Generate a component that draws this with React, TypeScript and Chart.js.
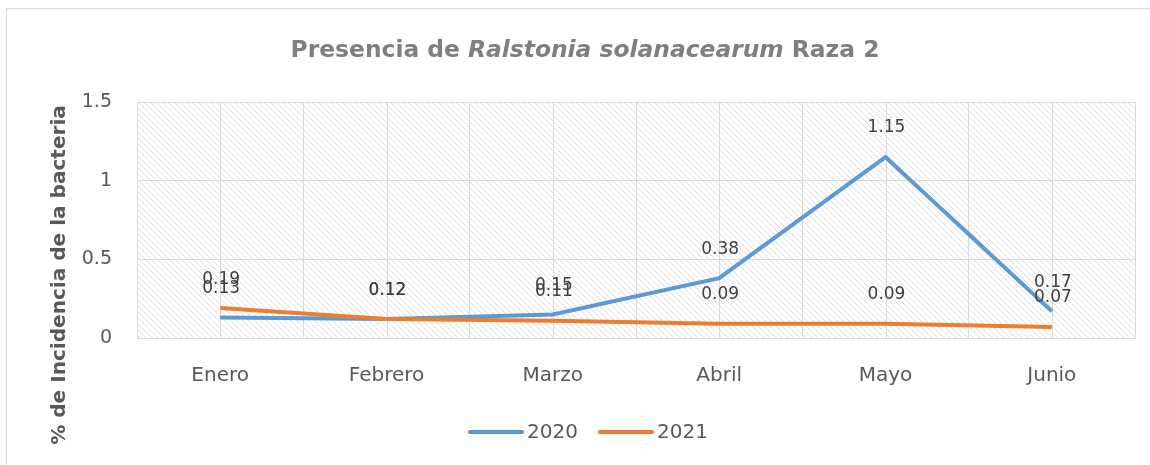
import React, { useEffect, useRef } from "react";
import { Chart, registerables } from "chart.js";

Chart.register(...registerables);

const categories = ["Enero", "Febrero", "Marzo", "Abril", "Mayo", "Junio"];
const series2020 = [0.13, 0.12, 0.15, 0.38, 1.15, 0.17];
const series2021 = [0.19, 0.12, 0.11, 0.09, 0.09, 0.07];
const seriesNames = ["2020", "2021"];
const yTicks = [0, 0.5, 1, 1.5];

const FONT = "'DejaVu Sans', 'Open Sans', sans-serif";
const BLUE = "#5B9BD5";
const ORANGE = "#ED7D31";
const GRID = "#d9d9d9";

function makePattern(ctx: CanvasRenderingContext2D) {
  const s = 6;
  const c = document.createElement("canvas");
  c.width = s;
  c.height = s;
  const p = c.getContext("2d")!;
  p.strokeStyle = "#dedede";
  p.lineWidth = 1;
  p.beginPath();
  p.moveTo(-1, -1);
  p.lineTo(s + 1, s + 1);
  p.moveTo(-1 - s, -1);
  p.lineTo(1, s + 1);
  p.moveTo(s - 1, -1);
  p.lineTo(2 * s + 1, s + 1);
  p.stroke();
  return ctx.createPattern(c, "repeat")!;
}

const decorPlugin = {
  id: "decor",
  beforeDraw(chart: any) {
    const { ctx, chartArea: a } = chart;
    ctx.save();
    ctx.fillStyle = "#ffffff";
    ctx.fillRect(0, 0, chart.width, chart.height);
    ctx.fillStyle = makePattern(ctx);
    ctx.fillRect(a.left, a.top, a.right - a.left, a.bottom - a.top);
    ctx.restore();
  },
  beforeDatasetsDraw(chart: any) {
    const { ctx, chartArea: a, scales } = chart;
    ctx.save();
    ctx.strokeStyle = GRID;
    ctx.lineWidth = 1;
    categories.forEach((_, i) => {
      const x = Math.round(scales.x.getPixelForValue(i)) + 0.5;
      ctx.beginPath();
      ctx.moveTo(x, a.top);
      ctx.lineTo(x, a.bottom);
      ctx.stroke();
    });
    ctx.restore();
  },
  afterDraw(chart: any) {
    const { ctx } = chart;
    ctx.save();
    // title, fitted to the reference width
    const parts = [
      { t: "Presencia de ", it: false },
      { t: "Ralstonia solanacearum", it: true },
      { t: " Raza 2", it: false },
    ];
    const measure = (size: number) => {
      let tot = 0;
      const ws = parts.map((p) => {
        ctx.font = `${p.it ? "italic " : ""}bold ${size}px ${FONT}`;
        const w = ctx.measureText(p.t).width;
        tot += w;
        return w;
      });
      return { tot, ws };
    };
    const base = measure(22);
    const size = Math.min(26, (22 * 589) / base.tot);
    const m = measure(size);
    let x = 585 - m.tot / 2;
    ctx.fillStyle = "#7f7f7f";
    ctx.textBaseline = "middle";
    ctx.textAlign = "left";
    parts.forEach((p, i) => {
      ctx.font = `${p.it ? "italic " : ""}bold ${size}px ${FONT}`;
      ctx.fillText(p.t, x, 51);
      x += m.ws[i];
    });

    // y axis title
    const yt = "% de Incidencia de la bacteria";
    ctx.font = `bold 19px ${FONT}`;
    const ys = Math.min(21, (19 * 340) / ctx.measureText(yt).width);
    ctx.save();
    ctx.translate(60, 275);
    ctx.rotate(-Math.PI / 2);
    ctx.font = `bold ${ys}px ${FONT}`;
    ctx.fillStyle = "#595959";
    ctx.textAlign = "center";
    ctx.textBaseline = "middle";
    ctx.fillText(yt, 0, 0);
    ctx.restore();

    // data labels
    ctx.font = `17px ${FONT}`;
    ctx.fillStyle = "#404040";
    ctx.textAlign = "center";
    ctx.textBaseline = "middle";
    chart.data.datasets.forEach((ds: any, di: number) => {
      const meta = chart.getDatasetMeta(di);
      meta.data.forEach((pt: any, i: number) => {
        ctx.fillText(String(ds.data[i]), pt.x + 1, pt.y - 29);
      });
    });

    // legend
    const colors = [BLUE, ORANGE];
    const lx = [470, 600];
    ctx.font = `20px ${FONT}`;
    ctx.textAlign = "left";
    seriesNames.forEach((n, i) => {
      ctx.strokeStyle = colors[i];
      ctx.lineWidth = 4;
      ctx.lineCap = "round";
      ctx.beginPath();
      ctx.moveTo(lx[i], 432);
      ctx.lineTo(lx[i] + 52, 432);
      ctx.stroke();
      ctx.fillStyle = "#595959";
      ctx.fillText(n, lx[i] + 57, 433);
    });

    ctx.restore();
  },
};

export default function App() {
  const ref = useRef<HTMLCanvasElement>(null);
  useEffect(() => {
    document.body.style.margin = "0";
    const chart = new Chart(ref.current!, {
      type: "line",
      data: {
        labels: categories,
        datasets: [
          {
            label: seriesNames[0],
            data: series2020,
            borderColor: BLUE,
            backgroundColor: BLUE,
            borderWidth: 4,
            pointRadius: 0,
            tension: 0,
            order: 1,
          },
          {
            label: seriesNames[1],
            data: series2021,
            borderColor: ORANGE,
            backgroundColor: ORANGE,
            borderWidth: 4,
            pointRadius: 0,
            tension: 0,
            order: 0,
          },
        ],
      },
      options: {
        animation: false,
        responsive: false,
        maintainAspectRatio: false,
        layout: { padding: { top: 102, right: 15, bottom: 0, left: 0 } },
        plugins: {
          legend: { display: false },
          title: { display: false },
          tooltip: { enabled: false },
        },
        scales: {
          x: {
            offset: true,
            grid: { offset: true, color: GRID, drawTicks: false },
            border: { color: GRID },
            ticks: {
              color: "#595959",
              font: { family: FONT, size: 20 },
              padding: 26,
            },
            afterFit(scale: any) {
              scale.height = 127;
            },
          },
          y: {
            min: 0,
            max: 1.5,
            afterBuildTicks(scale: any) {
              scale.ticks = yTicks.map((v) => ({ value: v }));
            },
            grid: { color: GRID, drawTicks: false },
            border: { color: GRID },
            ticks: {
              color: "#595959",
              font: { family: FONT, size: 19 },
              padding: 25,
              callback: (v: any) => String(v),
            },
            afterFit(scale: any) {
              scale.width = 137;
            },
          },
        },
      },
      plugins: [decorPlugin],
    });
    return () => chart.destroy();
  }, []);
  return (
    <div style={{ position: "fixed", left: 0, top: 0, width: 1150, height: 465 }}>
      <div
        style={{
          position: "absolute",
          left: 6,
          top: 8,
          right: 0,
          bottom: 0,
          borderLeft: "1px solid #d9d9d9",
          borderTop: "1px solid #d9d9d9",
          pointerEvents: "none",
          zIndex: 1,
        }}
      />
      <canvas ref={ref} width={1150} height={465} style={{ display: "block" }} />
    </div>
  );
}
